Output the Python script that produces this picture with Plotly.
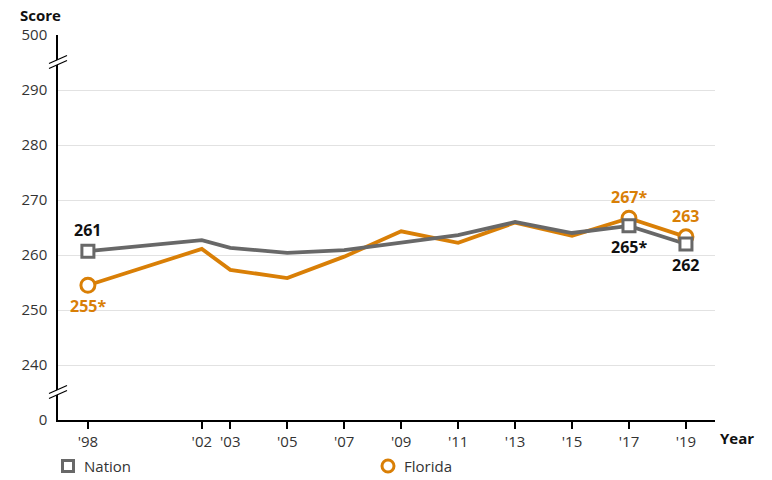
import plotly.graph_objects as go

years = [1998, 2002, 2003, 2005, 2007, 2009, 2011, 2013, 2015, 2017, 2019]
year_labels = ["'98", "'02", "'03", "'05", "'07", "'09", "'11", "'13", "'15", "'17", "'19"]
nation = [260.7, 262.7, 261.3, 260.4, 260.9, 262.2, 263.6, 266.0, 264.0, 265.3, 262.0]
florida = [254.5, 261.1, 257.3, 255.8, 259.7, 264.3, 262.2, 265.9, 263.5, 266.7, 263.3]
nation_labels = ["261", "", "", "", "", "", "", "", "", "265*", "262"]
florida_labels = ["255*", "", "", "", "", "", "", "", "", "267*", "263"]
nation_label_side = ["above", "", "", "", "", "", "", "", "", "below", "below"]
florida_label_side = ["below", "", "", "", "", "", "", "", "", "above", "above"]
y_tickvals = [230, 240, 250, 260, 270, 280, 290, 300]
y_ticktext = ["0", "240", "250", "260", "270", "280", "290", "500"]
series_names = ["Nation", "Florida"]

NATION_C = "#686868"
FLORIDA_C = "#D97F06"
FONT = "Open Sans"

# plot area in pixels (for converting a few overlay positions)
L, R, T, B, W, H = 58, 57, 35, 60, 772, 480
PW, PH = W - L - R, H - T - B
def px(xp):
    return (xp - L) / PW
def py(yp):
    return (H - B - yp) / PH

fig = go.Figure()

fig.add_trace(go.Scatter(x=years, y=florida, mode="lines", name="Florida",
                         line=dict(color=FLORIDA_C, width=3.8), showlegend=False, hoverinfo="skip"))
fig.add_trace(go.Scatter(x=years, y=nation, mode="lines", name="Nation",
                         line=dict(color=NATION_C, width=3.8), showlegend=False, hoverinfo="skip"))

def pick(vals, labels):
    return [v for v, l in zip(vals, labels) if l]

fig.add_trace(go.Scatter(
    x=pick(years, florida_labels), y=pick(florida, florida_labels), mode="markers",
    marker=dict(symbol="circle", size=14, color="white", line=dict(color=FLORIDA_C, width=3)),
    showlegend=False, hoverinfo="skip"))
fig.add_trace(go.Scatter(
    x=pick(years, nation_labels), y=pick(nation, nation_labels), mode="markers",
    marker=dict(symbol="square", size=12, color="white", line=dict(color=NATION_C, width=3)),
    showlegend=False, hoverinfo="skip"))

annotations = []
for xs, ys, labs, sides, col in ((years, nation, nation_labels, nation_label_side, "#111111"),
                                 (years, florida, florida_labels, florida_label_side, FLORIDA_C)):
    for xv, yv, lab, side in zip(xs, ys, labs, sides):
        if not lab:
            continue
        annotations.append(dict(text="<b>%s</b>" % lab, x=xv, y=yv, xref="x", yref="y",
                                yshift=21 if side == "above" else -21,
                                xanchor="center", yanchor="middle", showarrow=False,
                                font=dict(size=16, color=col, family=FONT)))

shapes = []
for yb in (295, 235):
    shapes.append(dict(type="path", xref="paper", yref="y", xsizemode="pixel", ysizemode="pixel",
                       xanchor=0, yanchor=yb, path="M-9,-6 L9,2 L9,7 L-9,-1 Z",
                       fillcolor="white", line=dict(width=0), layer="above"))
    shapes.append(dict(type="path", xref="paper", yref="y", xsizemode="pixel", ysizemode="pixel",
                       xanchor=0, yanchor=yb, path="M-9,-6 L9,2",
                       line=dict(color="black", width=1.3), layer="above"))
    shapes.append(dict(type="path", xref="paper", yref="y", xsizemode="pixel", ysizemode="pixel",
                       xanchor=0, yanchor=yb, path="M-9,-1 L9,7",
                       line=dict(color="black", width=1.3), layer="above"))

# legend symbols
shapes.append(dict(type="rect", xref="paper", yref="paper", xsizemode="pixel", ysizemode="pixel",
                   xanchor=px(68), yanchor=py(466), x0=-5.5, x1=5.5, y0=-5.5, y1=5.5,
                   fillcolor="white", line=dict(color=NATION_C, width=3)))
shapes.append(dict(type="circle", xref="paper", yref="paper", xsizemode="pixel", ysizemode="pixel",
                   xanchor=px(388), yanchor=py(466), x0=-6, x1=6, y0=-6, y1=6,
                   fillcolor="white", line=dict(color=FLORIDA_C, width=3)))

annotations += [
    dict(text="<b>Score</b>", xref="paper", yref="paper", x=px(40), y=py(15),
         xanchor="center", yanchor="middle", showarrow=False,
         font=dict(size=15, color="#111111", family=FONT)),
    dict(text="<b>Year</b>", xref="paper", yref="paper", x=px(737), y=py(438),
         xanchor="center", yanchor="middle", showarrow=False,
         font=dict(size=15, color="#111111", family=FONT)),
    dict(text=series_names[0], xref="paper", yref="paper", x=px(82), y=py(466),
         xanchor="left", yanchor="middle", showarrow=False,
         font=dict(size=15, color="#333333", family=FONT)),
    dict(text=series_names[1], xref="paper", yref="paper", x=px(402), y=py(466),
         xanchor="left", yanchor="middle", showarrow=False,
         font=dict(size=15, color="#333333", family=FONT)),
]

fig.update_layout(
    width=W, height=H,
    margin=dict(l=L, r=R, t=T, b=B, autoexpand=False),
    plot_bgcolor="white", paper_bgcolor="white",
    font=dict(family=FONT, size=15, color="#333333"),
    shapes=shapes,
    annotations=annotations,
    showlegend=False,
    xaxis=dict(range=[1996.95, 2020.02], tickvals=years, ticktext=year_labels,
               showgrid=False, zeroline=False, showline=True, linecolor="black", linewidth=1.5,
               ticks="outside", ticklen=7, tickcolor="black", tickwidth=1.5,
               tickfont=dict(size=15, color="#333333"), automargin=False),
    yaxis=dict(range=[230, 300], tickvals=y_tickvals, ticktext=y_ticktext,
               showgrid=True, gridcolor="#E2E2E2", gridwidth=1, zeroline=False,
               showline=True, linecolor="black", linewidth=1.5, ticks="",
               ticklabelstandoff=6, tickfont=dict(size=15, color="#333333"), automargin=False),
)

fig.write_html("out.html", config={"displayModeBar": False},
               post_script="document.body.style.margin='0';document.body.style.overflow='hidden';")
